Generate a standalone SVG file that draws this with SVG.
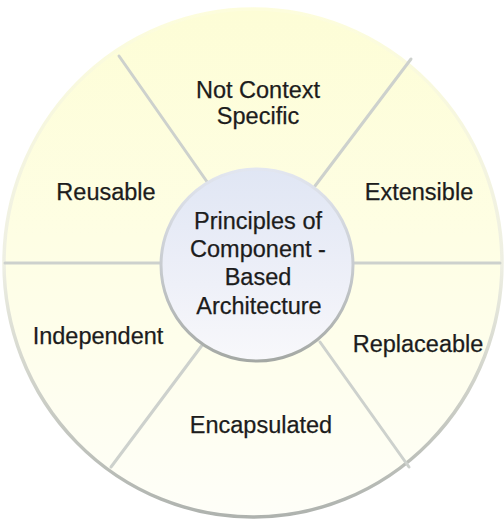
<svg xmlns="http://www.w3.org/2000/svg" width="504" height="524" viewBox="0 0 504 524">
  <defs>
    <linearGradient id="outerFill" x1="0" y1="0" x2="0" y2="1">
      <stop offset="0" stop-color="#fdfdd6"/>
      <stop offset="0.45" stop-color="#fefee4"/>
      <stop offset="1" stop-color="#fefef8"/>
    </linearGradient>
    <linearGradient id="outerStroke" x1="0" y1="0" x2="0" y2="1">
      <stop offset="0" stop-color="#fdfddc"/>
      <stop offset="0.5" stop-color="#eeefe3"/>
      <stop offset="1" stop-color="#aeb2ae"/>
    </linearGradient>
    <linearGradient id="innerFill" x1="0" y1="0" x2="0" y2="1">
      <stop offset="0" stop-color="#e0e6f4"/>
      <stop offset="0.6" stop-color="#eef0f8"/>
      <stop offset="1" stop-color="#f8f8fb"/>
    </linearGradient>
    <linearGradient id="innerStroke" x1="0" y1="0" x2="0" y2="1">
      <stop offset="0" stop-color="#e2e6f0"/>
      <stop offset="0.5" stop-color="#c8ccd0"/>
      <stop offset="1" stop-color="#a4a8a4"/>
    </linearGradient>
    <style>
      .lbl { font-family: "Liberation Sans", Arial, sans-serif; font-size: 23.5px; fill: #1c1c1c; text-anchor: middle; stroke: #1c1c1c; stroke-width: 0.25; }
      .div { stroke: #cdd1cd; stroke-width: 3; fill: none; stroke-linecap: round; }
    </style>
  </defs>

  <g id="wheel">
    <ellipse cx="253" cy="263" rx="249" ry="254" fill="url(#outerFill)" stroke="url(#outerStroke)" stroke-width="3.5"/>
  </g>

  <g id="connectors">
    <line class="div" x1="5" y1="263" x2="162" y2="263"/>
    <line class="div" x1="352" y1="263" x2="500" y2="263"/>
    <line class="div" x1="119" y1="56" x2="210" y2="186"/>
    <line class="div" x1="411" y1="59" x2="315" y2="186"/>
    <line class="div" x1="206" y1="340" x2="111" y2="467"/>
    <line class="div" x1="320" y1="342" x2="409" y2="467"/>
  </g>

  <g id="center">
    <circle cx="257" cy="265" r="96" fill="url(#innerFill)" stroke="url(#innerStroke)" stroke-width="3"/>
    <text class="lbl" x="258" y="229">Principles of</text>
    <text class="lbl" x="258" y="257">Component -</text>
    <text class="lbl" x="258" y="285">Based</text>
    <text class="lbl" x="259" y="314">Architecture</text>
  </g>

  <g id="not-context-specific">
    <text class="lbl" x="258" y="98">Not Context</text>
    <text class="lbl" x="258" y="124">Specific</text>
  </g>
  <g id="reusable">
    <text class="lbl" x="106" y="200">Reusable</text>
  </g>
  <g id="extensible">
    <text class="lbl" x="419" y="200">Extensible</text>
  </g>
  <g id="independent">
    <text class="lbl" x="98" y="344">Independent</text>
  </g>
  <g id="replaceable">
    <text class="lbl" x="418" y="352">Replaceable</text>
  </g>
  <g id="encapsulated">
    <text class="lbl" x="261" y="433">Encapsulated</text>
  </g>
</svg>
